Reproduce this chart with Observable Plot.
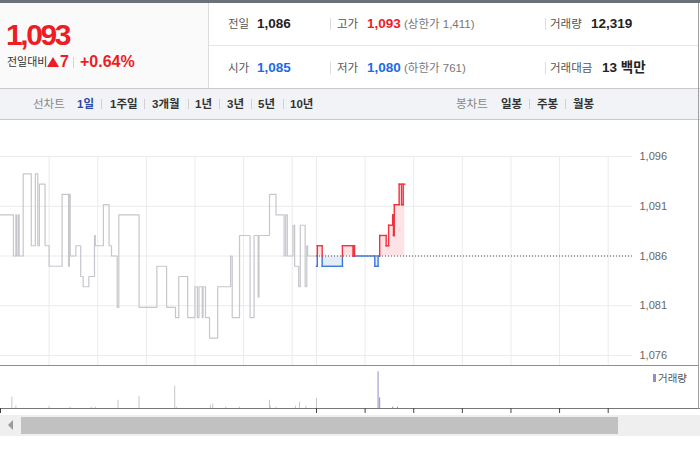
<!DOCTYPE html>
<html><head><meta charset="utf-8">
<script src="https://cdn.jsdelivr.net/npm/d3@7"></script>
<script src="https://cdn.jsdelivr.net/npm/@observablehq/plot@0.6"></script>
<style>
body{margin:0;background:#fff;}
#wrap{position:relative;width:700px;height:450px;overflow:hidden;font-family:"Liberation Sans",Arial,"Noto Sans CJK KR",sans-serif;}
.b{position:absolute;}
.t{position:absolute;white-space:nowrap;height:20px;line-height:20px;}
</style></head><body><div id="wrap"></div>
<script>
// ---------- data ----------
const prevClose = 1086;
const prevTimes = ["09:00","09:16","09:19","09:20","09:22","09:23","09:28","09:38","09:43","09:46","09:48","09:55","10:00","10:16","10:24","10:25","10:26","10:33","10:39","10:42","10:49","10:56","10:57","11:07","11:14","11:17","11:24","11:26","11:51","12:13","12:25","12:36","12:40","12:51","13:00","13:03","13:05","13:09","13:10","13:13","13:18","13:28","13:44","13:46","13:55","14:08","14:13","14:18","14:19","14:32","14:40","14:50","14:52","14:54","15:01","15:03","15:08","15:10","15:16","15:18","15:19","15:30"];
const prevPrices = [1090,1086,1090,1086,1090,1086,1094,1087,1094,1087,1093,1087,1085,1092,1085,1092,1086,1087,1084,1083,1084,1088,1087,1091,1087,1086,1081,1090,1081,1085,1081,1080,1084,1080,1083,1080,1083,1080,1083,1080,1078,1083,1086,1080,1088,1080,1088,1082,1088,1092,1090,1086,1090,1086,1089,1085,1083,1089,1083,1087,1086,1086];
const todayTimes = ["09:00","09:01","09:07","09:32","09:45","09:46","09:47","10:12","10:16","10:18","10:26","10:29","10:34","10:35","10:36","10:42","10:45","10:47","10:49"];
const todayPrices = [1085,1087,1085,1087,1086,1087,1086,1085,1086,1088,1087,1089,1090,1088,1091,1093,1091,1093,1093];
const prevVolTimes = ["09:14","09:19","10:00","10:26","10:52","10:57","11:25","11:51","12:35","12:37","13:19","13:22","13:38","13:55","14:32","14:33","14:40","15:04","15:09","15:17","15:30"];
const prevVolumes = [2770,660,560,320,320,320,2030,3010,5460,320,810,1050,320,320,2030,560,320,560,1540,560,2520];
const todayVolTimes = ["10:16","10:18","10:34","10:40"];
const todayVolumes = [9000,2640,340,339];
const yTicks = [1076.3,1081.15,1086,1090.85,1095.7];
const gridHours = ["10:00","11:00","12:00","13:00","14:00","15:00"];

const quote = {price:"1,093", change:"7", rate:"+0.64%"};
const row1 = [["전일","1,086","#222"],["고가","1,093","#ee1c25"],["거래량","12,319","#222"]];
const row2 = [["시가","1,085","#1d6ae5"],["저가","1,080","#1d6ae5"],["거래대금","13 백만","#222"]];
const limits = ["(상한가 1,411)","(하한가 761)"];
const lineTabs = ["1일","1주일","3개월","1년","3년","5년","10년"];
const candleTabs = ["일봉","주봉","월봉"];

// ---------- helpers ----------
const RED="#ee1c25", BLUE="#1d6ae5";
const wrap=document.getElementById("wrap");
function box(x,y,w,h,bg,extra){const d=document.createElement("div");d.className="b";Object.assign(d.style,{left:x+"px",top:y+"px",width:w+"px",height:h+"px",background:bg},extra||{});wrap.appendChild(d);return d;}
function txt(s,x,yc,size,color,weight,extra){const d=document.createElement("div");d.className="t";Object.assign(d.style,{left:x+"px",top:(yc-10)+"px",fontSize:size+"px",color:color,fontWeight:weight||400},extra||{});d.textContent=s;wrap.appendChild(d);return d;}
function toMin(t,day){const [h,m]=t.split(":").map(Number);return (h-9)*60+m+day*390;}

// ---------- header ----------
box(0,0,700,3,"#6c7079");
box(0,3,208,85,"#fafafa");
box(208,3,1,85,"#dcdcdc");
box(209,45,489,1,"#e6e6e6");
txt(quote.price,6,35,30,RED,700,{letterSpacing:"-2.4px"});
txt("전일대비",7,62,11,"#333",400);
box(47,57,0,0,"transparent",{borderLeft:"6px solid transparent",borderRight:"6px solid transparent",borderBottom:"10px solid "+RED});
txt(quote.change,60,62,16,RED,700);
box(73,57,1,11,"#d5d5d5");
txt(quote.rate,80,62,16,RED,700);

const colX=[[228,257],[337,367],[550,591]];
[row1,row2].forEach((row,ri)=>{
  const yc = ri===0?24:68;
  row.forEach((c,ci)=>{
    txt(c[0],colX[ci][0],yc,11.5,"#555",400);
    let vx = colX[ci][1]; if(ri===1&&ci===2) vx=602;
    txt(c[1],vx,yc,13.5,c[2],700);
  });
  txt(limits[ri],404,yc,11.5,"#777",400);
  box(330,yc-6,1,12,"#dcdcdc");
  box(545,yc-6,1,12,"#dcdcdc");
});

// tab bar
box(0,88,700,30,"#f2f3f6",{borderTop:"1px solid #c8c8c8",borderBottom:"1px solid #c8c8c8"});
txt("선차트",33,104,11.5,"#888",400);
const lineX=[77,110,152,195,227,258,290], lineSep=[101,144,188,219,251,283];
lineTabs.forEach((s,i)=>txt(s,lineX[i],104,11.5,i===0?"#2d49a6":"#333",700));
lineSep.forEach(x=>box(x,99,1,10,"#d0d0d0"));
txt("봉차트",456,104,11.5,"#888",400);
const candleX=[501,537,573], candleSep=[529,565];
candleTabs.forEach((s,i)=>txt(s,candleX[i],104,11.5,"#333",700));
candleSep.forEach(x=>box(x,99,1,10,"#d0d0d0"));

// ---------- main chart ----------
const prev = prevTimes.map((t,i)=>({t:toMin(t,0),p:prevPrices[i]}));
const today = todayTimes.map((t,i)=>({t:toMin(t,1),p:todayPrices[i]}));
const base = prevClose;
const segs=[];
for(let i=0;i<today.length-1;i++){
  const a=today[i], b=today[i+1];
  segs.push({x1:a.t,x2:b.t,y1:a.p,y2:a.p,up:a.p>base});
  const lo=Math.min(a.p,b.p), hi=Math.max(a.p,b.p);
  if(hi>base && lo<base){segs.push({x1:b.t,x2:b.t,y1:lo,y2:base,up:false});segs.push({x1:b.t,x2:b.t,y1:base,y2:hi,up:true});}
  else if(lo!==hi) segs.push({x1:b.t,x2:b.t,y1:lo,y2:hi,up:hi>base});
}
const gridMins = [...gridHours.map(h=>toMin(h,0)), toMin("09:00",1), ...gridHours.map(h=>toMin(h,1))];
const fmt = d3.format(",");
const XR = {domain:[0,780],range:[0,632]};

const main = Plot.plot({
  width:700,height:245,marginLeft:0,marginRight:68,marginTop:36,marginBottom:0,
  style:{position:"absolute",left:"0px",top:"120px",fontFamily:"'Liberation Sans',Arial,sans-serif",fontSize:"11px",color:"#666",background:"transparent",overflow:"visible"},
  x:{...XR,axis:null},
  y:{domain:[1076.3,1095.7],range:[235,36]},
  marks:[
    Plot.gridY(yTicks,{stroke:"#ebebeb",strokeOpacity:1}),
    Plot.gridX(gridMins,{stroke:"#ebebeb",strokeOpacity:1}),
    Plot.axisY(yTicks,{anchor:"right",tickSize:0,tickPadding:7,tickFormat:d=>fmt(Math.round(d)),color:"#666",fontSize:11,label:null}),
    Plot.areaY(today,{x:"t",y1:base,y2:d=>Math.max(d.p,base),curve:"step-after",fill:"#fde3e6"}),
    Plot.areaY(today,{x:"t",y1:base,y2:d=>Math.min(d.p,base),curve:"step-after",fill:"#e3ecf9"}),
    Plot.line(prev,{x:"t",y:"p",curve:"step-after",stroke:"#c5c7cc",strokeWidth:1.2}),
    Plot.ruleY([base],{x1:toMin("09:00",1),x2:780,stroke:"#555",strokeDasharray:"1,2"}),
    Plot.link(segs.filter(s=>!s.up),{x1:"x1",y1:"y1",x2:"x2",y2:"y2",stroke:"#3a78d6",strokeWidth:1.4,strokeLinecap:"square"}),
    Plot.link(segs.filter(s=>s.up),{x1:"x1",y1:"y1",x2:"x2",y2:"y2",stroke:"#f2323e",strokeWidth:1.4,strokeLinecap:"square"})
  ]
});
wrap.appendChild(main);

// ---------- volume ----------
const pv = prevVolTimes.map((t,i)=>({t:toMin(t,0),v:prevVolumes[i]}));
const tv = todayVolTimes.map((t,i)=>({t:toMin(t,1),v:todayVolumes[i]}));
const volTicks = [toMin("09:00",0), toMin("09:00",1), ...gridHours.map(h=>toMin(h,1))];
const vol = Plot.plot({
  width:700,height:50,marginLeft:0,marginRight:0,marginTop:0,marginBottom:8,
  style:{position:"absolute",left:"0px",top:"366px",background:"transparent",overflow:"visible"},
  x:{...XR,label:null},
  y:{domain:[0,10300],axis:null},
  marks:[
    Plot.ruleX(pv,{x:"t",y1:0,y2:"v",stroke:"#c4c6cc",strokeWidth:1}),
    Plot.ruleX(tv,{x:"t",y1:0,y2:"v",stroke:"#9a88c8",strokeWidth:1}),
    Plot.ruleY([0],{stroke:"#777"}),
    Plot.axisX(volTicks,{tickSize:5,tickFormat:()=>"",stroke:"#444",label:null})
  ]
});
wrap.appendChild(vol);

// frame lines, legend, scrollbar
box(0,365,698,1,"#8f8f8f");
box(698,3,1,406,"#a0a0a0");
box(653,374,3,8,"#9a88c8");
txt("거래량",658,378,10.5,"#555",400);
box(0,415,700,21,"#efefef");
box(21,417,597,17,"#c1c1c1");
box(8,420,0,0,"transparent",{borderRight:"5px solid #9a9a9a",borderTop:"5px solid transparent",borderBottom:"5px solid transparent"});
</script></body></html>
